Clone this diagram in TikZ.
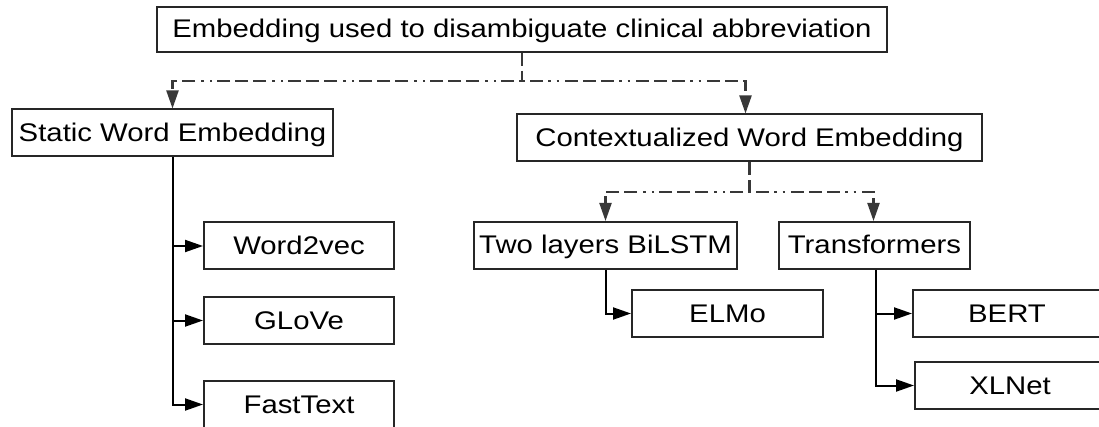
\documentclass[tikz,border=0pt]{standalone}
\usepackage{fontspec}
\setmainfont[FakeStretch=1.15]{Liberation Sans}
\usetikzlibrary{arrows.meta}
\begin{document}
\begin{tikzpicture}[x=1pt,y=-1pt,
  box/.style={draw=black!85,line width=2pt,fill=white,inner sep=0pt,
    text height=17pt,text depth=0pt,minimum height=47pt,
    font=\fontsize{25.5}{30}\selectfont},
  tip/.style={-{Triangle[length=18pt,width=12pt]}},
  conn/.style={tip,draw=black,line width=2pt},
  dashline/.style={tip,draw=black!78,line width=2.1pt,
    dash pattern=on 13pt off 5pt on 13pt off 5pt on 13pt off 5pt on 2.5pt off 6pt on 2.5pt off 6pt}]
\useasboundingbox (0,0) rectangle (1099,427);

% boxes
\node[box,minimum width=730pt,minimum height=45pt] (top) at (522,29.5) {Embedding used to disambiguate clinical abbreviation};
\node[box,minimum width=321pt] (static) at (172.5,133) {Static Word Embedding};
\node[box,minimum width=465pt] (ctx) at (749.5,138) {Contextualized Word Embedding};
\node[box,minimum width=190pt] (w2v) at (299,246) {Word2vec};
\node[box,minimum width=190pt] (glove) at (299,320.5) {GLoVe};
\node[box,minimum width=190pt] (fast) at (299,404.5) {FastText};
\node[box,minimum width=263pt] (bilstm) at (605.5,245.5) {Two layers BiLSTM};
\node[box,minimum width=191pt] (trans) at (874.5,245.5) {Transformers};
\node[box,minimum width=191pt] (elmo) at (727.5,313.5) {ELMo};
\node[box,minimum width=188pt] (bert) at (1007,313.5) {BERT};
\node[box,minimum width=190pt] (xlnet) at (1010,385.5) {XLNet};

% dash-dot branching
\coordinate (j1) at (522,81);
\coordinate (j2) at (749.5,192);
\draw[dashline] (top.south) -- (j1) -| (static.north);
\draw[dashline] (top.south) -- (j1) -| ([xshift=-4pt]ctx.north);
\draw[dashline] (ctx.south) -- (j2) -| (bilstm.north);
\draw[dashline] (ctx.south) -- (j2) -| ([xshift=-1pt]trans.north);

% solid tree connectors
\draw[conn] (static.south) |- (w2v.west);
\draw[conn] (static.south) |- (glove.west);
\draw[conn] (static.south) |- (fast.west);
\draw[conn] (bilstm.south) |- (elmo.west);
\draw[conn] ([xshift=1pt]trans.south) |- (bert.west);
\draw[conn] ([xshift=1pt]trans.south) |- (xlnet.west);
\end{tikzpicture}
\end{document}
